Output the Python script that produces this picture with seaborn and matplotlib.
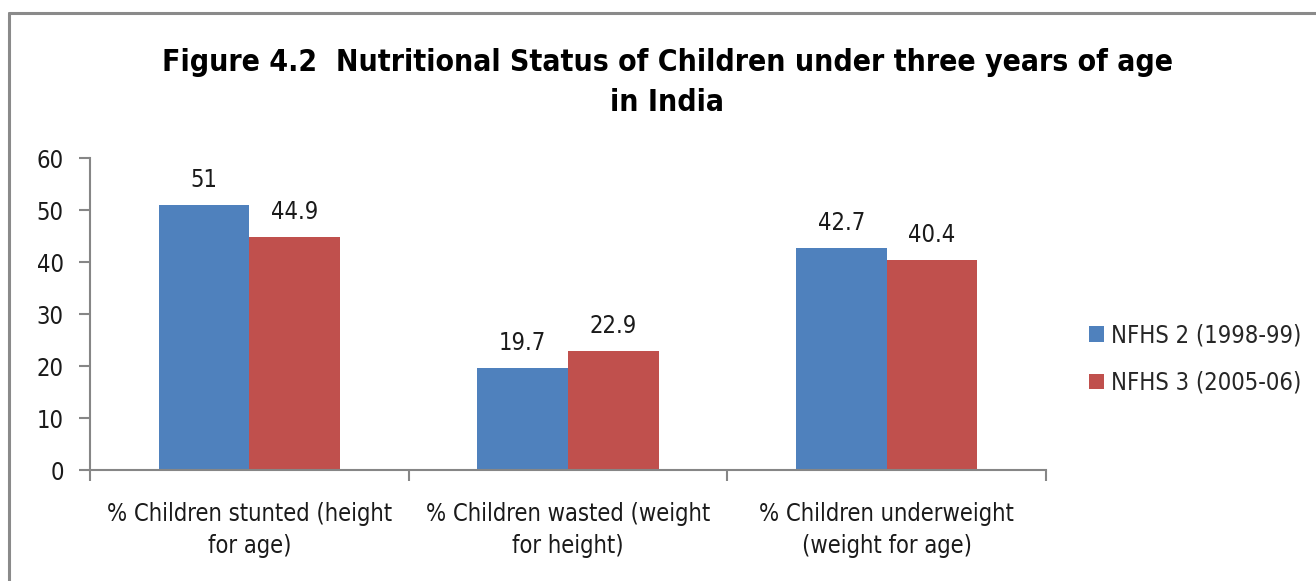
import pandas as pd
import numpy as np
import matplotlib
matplotlib.use("Agg")
import matplotlib.pyplot as plt
from matplotlib import font_manager
from matplotlib.lines import Line2D
from matplotlib.patches import Patch
import seaborn as sns

# ─────────────────────────────────────────────
# DATA
# ─────────────────────────────────────────────
categories = [
    "% Children stunted (height\nfor age)",
    "% Children wasted (weight\nfor height)",
    "% Children underweight\n(weight for age)",
]
series_names = ["NFHS 2 (1998-99)", "NFHS 3 (2005-06)"]
nfhs2_values = [51, 19.7, 42.7]
nfhs3_values = [44.9, 22.9, 40.4]
y_ticks = [0, 10, 20, 30, 40, 50, 60]

colors = ["#4F81BD", "#C0504D"]
axis_grey = "#868686"

df = pd.DataFrame({
    "category": categories * 2,
    "survey": [series_names[0]] * 3 + [series_names[1]] * 3,
    "value": nfhs2_values + nfhs3_values,
})

# ─────────────────────────────────────────────
# FONT: prefer a narrow face (the original uses Arial Narrow)
# ─────────────────────────────────────────────
entries = font_manager.fontManager.ttflist
names = {f.name for f in entries}
stretch = "normal"
if "Liberation Sans Narrow" in names:
    family = "Liberation Sans Narrow"
elif any(f.name == "DejaVu Sans" and str(f.stretch) in ("condensed", "semi-condensed", "600", "500") for f in entries):
    family = "DejaVu Sans"
    stretch = "condensed"
else:
    family = "Roboto"
    stretch = "condensed"

# ─────────────────────────────────────────────
# PLOT
# ─────────────────────────────────────────────
sns.set_style("white")
plt.rcParams["font.family"] = [family, "DejaVu Sans"]
plt.rcParams["font.stretch"] = stretch

fig = plt.figure(figsize=(13.16, 5.81), dpi=100)
ax = fig.add_axes([0.0684, 0.191, 0.7264, 0.537])

sns.barplot(data=df, x="category", y="value", hue="survey",
            palette=colors, width=0.57, linewidth=0, saturation=1,
            ax=ax, legend=False)

for cont in ax.containers:
    ax.bar_label(cont, labels=[f"{b.get_height():g}" for b in cont],
                 padding=9, fontsize=17, color="#1a1a1a")

ax.set_xlim(-0.5, 2.5)
ax.set_ylim(0, 60)
ax.set_yticks(y_ticks)
ax.set_xlabel("")
ax.set_ylabel("")

# spines
for side in ["top", "right"]:
    ax.spines[side].set_visible(False)
for side in ["left", "bottom"]:
    ax.spines[side].set_color(axis_grey)
    ax.spines[side].set_linewidth(1.5)

ax.tick_params(axis="y", left=True, length=8, width=1.5, color=axis_grey,
               labelsize=17, labelcolor="#1a1a1a", pad=11)
ax.tick_params(axis="x", which="major", length=0, labelsize=17,
               labelcolor="#1a1a1a", pad=23)
for lbl in ax.get_xticklabels():
    lbl.set_linespacing(1.4)
ax.set_xticks([-0.5, 0.5, 1.5, 2.5], minor=True)
ax.tick_params(axis="x", which="minor", bottom=True, length=8, width=1.5,
               color=axis_grey)

# title
fig.text(0.507, 0.858, "Figure 4.2  Nutritional Status of Children under three years of age\nin India",
         ha="center", va="center", fontsize=21.6, fontweight="bold",
         linespacing=1.45, color="black")

# legend
handles = [Patch(facecolor=c, edgecolor="none") for c in colors]
fig.legend(handles, series_names, loc="center left",
           bbox_to_anchor=(0.8185, 0.382), frameon=False, fontsize=17,
           handlelength=0.65, handleheight=0.65, handletextpad=0.3,
           labelspacing=1.0, borderpad=0)

# chart border (top and left visible)
fig.add_artist(Line2D([0.0068, 1.0], [0.9776, 0.9776], color="#8a8a8a", lw=2.2))
fig.add_artist(Line2D([0.0068, 0.0068], [0.0, 0.9776], color="#8a8a8a", lw=2.2))

fig.savefig("out.png", dpi=100)
